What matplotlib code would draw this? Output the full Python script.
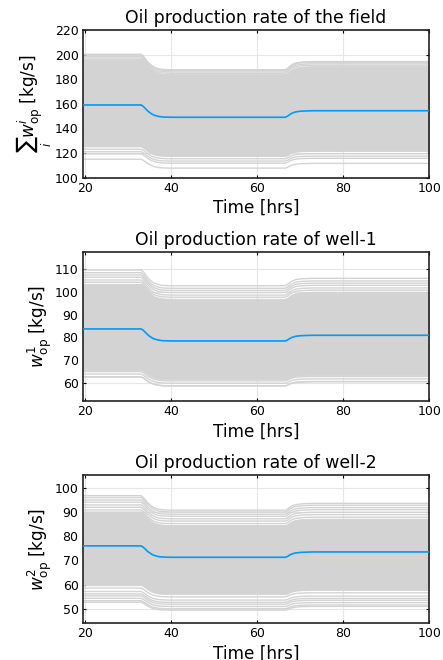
import numpy as np
import matplotlib.pyplot as plt

# time axis [hrs] and ensemble-mean trajectories
t_hrs = [19.4, 33.0, 33.5, 34.0, 34.5, 35.0, 35.5, 36.0, 37.0, 38.0, 40.0,
         66.5, 67.0, 67.5, 68.0, 68.5, 69.0, 70.0, 71.0, 73.0, 100.0]
mean_field = [159.1, 159.1, 157.9, 156.1, 154.3, 152.9, 151.7, 150.8, 149.8, 149.3, 149.1,
              149.1, 149.9, 151.2, 152.3, 153.0, 153.5, 154.0, 154.2, 154.4, 154.4]
mean_well1 = [83.7, 83.7, 83.1, 82.1, 81.2, 80.4, 79.8, 79.3, 78.8, 78.5, 78.4,
              78.4, 78.8, 79.4, 79.9, 80.2, 80.5, 80.7, 80.8, 80.9, 80.9]
mean_well2 = [76.0, 76.0, 75.4, 74.6, 73.7, 73.1, 72.5, 72.1, 71.6, 71.4, 71.3,
              71.3, 71.6, 72.2, 72.6, 72.9, 73.1, 73.3, 73.4, 73.5, 73.5]

# initial levels of the ensemble members that stand apart from the dense band
field_members = [200.3, 199.6, 198.4, 197.2, 125.2, 123.1, 121.1, 119.3, 115.0]
well1_members = [109.7, 108.5, 107.5, 106.5, 105.3, 104.3, 64.9, 63.8, 62.6, 62.5]
well2_members = [96.7, 95.9, 94.9, 94.0, 92.9, 91.9, 90.8, 58.6, 57.2, 56.2, 55.4, 54.4, 53.4, 52.8]

# initial levels bounding the dense band of members
field_core = [125.8, 196.5]
well1_core = [65.6, 103.6]
well2_core = [59.8, 90.2]

titles = ["Oil production rate of the field", "Oil production rate of well-1",
          "Oil production rate of well-2"]
ylabels = [r"$\sum_i w_{\mathrm{op}}^i$ [kg/s]", r"$w_{\mathrm{op}}^1$ [kg/s]",
           r"$w_{\mathrm{op}}^2$ [kg/s]"]
yticks = [[100, 120, 140, 160, 180, 200, 220], [60, 70, 80, 90, 100, 110],
          [50, 60, 70, 80, 90, 100]]
ylims = [(100, 220), (51.9, 117.5), (44.1, 105.2)]
xticks = [20, 40, 60, 80, 100]

GRAY = "#d3d3d3"
BLUE = "#009afa"

fig = plt.figure(figsize=(4.43, 6.6), dpi=100)
boxes = [[0.1867, 0.7308, 0.7824, 0.2237],
         [0.1867, 0.3924, 0.7824, 0.2253],
         [0.1867, 0.0556, 0.7824, 0.2247]]

panels = [(mean_field, field_members, field_core),
          (mean_well1, well1_members, well1_core),
          (mean_well2, well2_members, well2_core)]

t = np.array(t_hrs)
for k, (mean, members, core) in enumerate(panels):
    ax = fig.add_axes(boxes[k])
    m = np.array(mean)
    shape = m / m[0]
    ax.fill_between(t, core[0] * shape, core[1] * shape, color=GRAY, lw=0.6, zorder=2)
    for lvl in members:
        ax.plot(t, lvl * shape, color=GRAY, lw=1.0, zorder=2)
    ax.plot(t, m, color=BLUE, lw=1.2, zorder=3)

    ax.set_xlim(19.4, 100)
    ax.set_ylim(*ylims[k])
    ax.set_xticks(xticks)
    ax.set_yticks(yticks[k])
    ax.grid(True, color="#e6e6e6", lw=0.8)
    ax.tick_params(direction="in", length=2.5, width=0.8, top=True, right=True,
                   labelsize=9, pad=3, colors="black")
    for s in ax.spines.values():
        s.set_linewidth(1.2)
        s.set_color("#222222")
    ax.set_title(titles[k], fontsize=12.4, pad=5)
    ax.set_xlabel("Time [hrs]", fontsize=12.2, labelpad=3)
    ax.set_ylabel(ylabels[k], fontsize=12.2, labelpad=0.5)

fig.savefig("out.png", dpi=100)
